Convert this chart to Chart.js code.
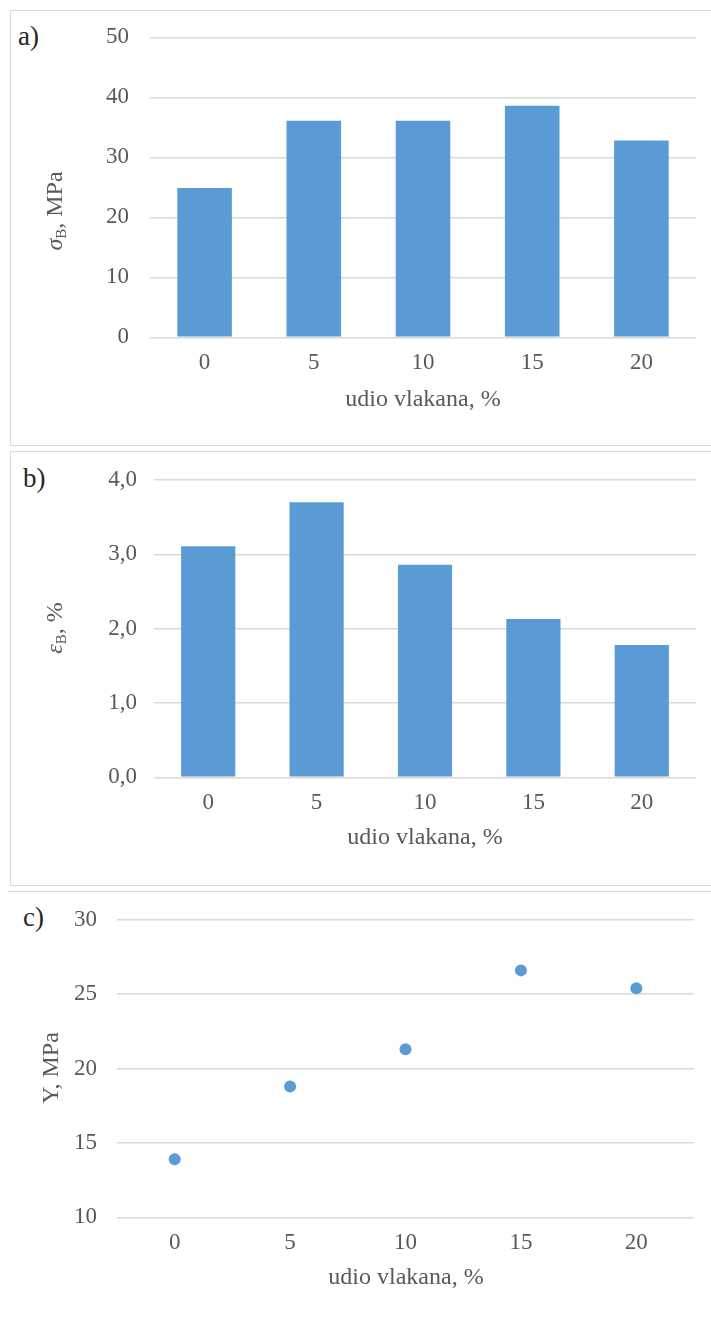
<!DOCTYPE html>
<html>
<head>
<meta charset="utf-8">
<script src="https://cdn.jsdelivr.net/npm/chart.js@4.4.1/dist/chart.umd.min.js"></script>
<style>
  body { margin: 0; background: #fff; width: 711px; height: 1317px; overflow: hidden; position: relative; font-family: "Liberation Serif", serif; }
  .frame { position: absolute; border: 1.5px solid #d9d9d9; box-sizing: border-box; }
  .lbl { position: absolute; font-size: 27px; color: #262626; line-height: 1; }
  canvas { position: absolute; left: 0; }
</style>
</head>
<body>
<div class="frame" style="left:10px; top:10px; width:720px; height:436px;"></div>
<div class="frame" style="left:10px; top:451px; width:720px; height:435px;"></div>
<div class="frame" style="left:8px; top:891px; width:720px; height:500px; border-left:none;"></div>
<div class="lbl" style="left:18px; top:23px;">a)</div>
<div class="lbl" style="left:23px; top:465px;">b)</div>
<div class="lbl" style="left:23px; top:904px;">c)</div>

<canvas id="chA" width="711" height="446" style="top:0px"></canvas>
<canvas id="chB" width="711" height="440" style="top:446px"></canvas>
<canvas id="chC" width="711" height="431" style="top:886px"></canvas>

<script>
// udio vlakana, %
const categories = ['0', '5', '10', '15', '20'];
// a) sigma_B, MPa
const sigmaB = [24.9, 36.1, 36.1, 38.6, 32.8];
// b) epsilon_B, %
const epsB = [3.11, 3.70, 2.86, 2.13, 1.78];
// c) Y, MPa
const yMod = [13.9, 18.8, 21.3, 26.6, 25.4];

// y axis ranges [min, max, step]
const rangeA = [0, 50, 10];
const rangeB = [0, 4, 1];
const rangeC = [10, 30, 5];

const blue = '#5b9bd5';
const grey = '#595959';
const FONT = 'Liberation Serif';

Chart.defaults.font.family = FONT;
Chart.defaults.color = grey;

// draws the axis titles (y one rotated, with subscript)
const axisTitles = {
  id: 'axisTitles',
  afterDraw(chart, args, opts) {
    const ctx = chart.ctx;
    ctx.save();
    ctx.fillStyle = grey;
    ctx.textBaseline = 'middle';
    // x title
    ctx.font = '24px "' + FONT + '"';
    ctx.textAlign = 'center';
    ctx.fillText(opts.x.text, opts.x.cx, opts.x.cy);
    // y title, parts
    ctx.translate(opts.y.cx, opts.y.cy);
    ctx.rotate(-Math.PI / 2);
    ctx.textAlign = 'left';
    let total = 0;
    const fonts = opts.y.parts.map(p => {
      const f = (p.italic ? 'italic ' : '') + (p.sub ? '15px' : '24px') + ' "' + FONT + '"';
      ctx.font = f;
      total += ctx.measureText(p.t).width;
      return f;
    });
    let x = -total / 2;
    opts.y.parts.forEach((p, i) => {
      ctx.font = fonts[i];
      ctx.fillText(p.t, x, p.sub ? 6 : 0);
      x += ctx.measureText(p.t).width;
    });
    ctx.restore();
  }
};

function makeOptions(range, fmt, area, canvasH, titles) {
  const xH = 60;
  return {
    responsive: false,
    animation: false,
    layout: {
      padding: { left: 0, top: area.top, right: area.right, bottom: canvasH - area.bottom - xH }
    },
    plugins: {
      legend: { display: false },
      tooltip: { enabled: false },
      axisTitles: titles
    },
    scales: {
      x: {
        offset: true,
        grid: { display: false, drawTicks: false },
        border: { display: false },
        ticks: { padding: 12, font: { size: 23 }, color: grey },
        afterFit: s => { s.height = xH; }
      },
      y: {
        min: range[0],
        max: range[1],
        grid: { color: '#d9d9d9', lineWidth: 1.5, drawTicks: false },
        border: { display: false },
        ticks: { stepSize: range[2], padding: area.tickPad, font: { size: 23 }, color: grey, callback: fmt },
        afterFit: s => { s.width = area.left; }
      }
    }
  };
}

new Chart(document.getElementById('chA'), {
  type: 'bar',
  data: {
    labels: categories,
    datasets: [{ data: sigmaB, backgroundColor: blue, barPercentage: 0.5, categoryPercentage: 1 }]
  },
  options: makeOptions(rangeA, v => v, { left: 150, right: 15, top: 37.3, bottom: 337.3, tickPad: 21 }, 446, {
    x: { text: 'udio vlakana, %', cx: 423, cy: 400 },
    y: { cx: 56, cy: 211, parts: [{ t: 'σ', italic: true }, { t: 'B', sub: true }, { t: ', MPa' }] }
  }),
  plugins: [axisTitles]
});

new Chart(document.getElementById('chB'), {
  type: 'bar',
  data: {
    labels: categories,
    datasets: [{ data: epsB, backgroundColor: blue, barPercentage: 0.5, categoryPercentage: 1 }]
  },
  options: makeOptions(rangeB, v => v.toFixed(1).replace('.', ','), { left: 154, right: 15, top: 34, bottom: 331.3, tickPad: 17 }, 440, {
    x: { text: 'udio vlakana, %', cx: 425, cy: 392 },
    y: { cx: 56, cy: 182, parts: [{ t: 'ε', italic: true }, { t: 'B', sub: true }, { t: ', %' }] }
  }),
  plugins: [axisTitles]
});

new Chart(document.getElementById('chC'), {
  type: 'line',
  data: {
    labels: categories,
    datasets: [{ data: yMod, showLine: false, pointRadius: 6, pointBackgroundColor: blue, pointBorderWidth: 0, borderColor: blue }]
  },
  options: makeOptions(rangeC, v => v, { left: 117, right: 17, top: 31.7, bottom: 331.3, tickPad: 20 }, 431, {
    x: { text: 'udio vlakana, %', cx: 406, cy: 392 },
    y: { cx: 52, cy: 182, parts: [{ t: 'Y, MPa' }] }
  }),
  plugins: [axisTitles]
});
</script>
</body>
</html>
